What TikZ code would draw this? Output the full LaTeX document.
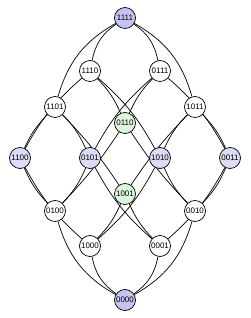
\documentclass[tikz,border=0pt]{standalone}
\usepackage{fontspec}
\setmainfont{Liberation Sans}
\usetikzlibrary{backgrounds}
\definecolor{topblue}{HTML}{C4C4F4}
\definecolor{midblue}{HTML}{DCDCF6}
\definecolor{midgreen}{HTML}{DDF5DD}
\tikzset{
  vtx/.style={circle,draw=black,line width=0.7pt,fill=white,minimum size=21pt,inner sep=0pt,font=\fontsize{8}{9}\selectfont},
  link/.style={line width=0.7pt,draw=black},
  BL/.style={link,bend left=22},
  BR/.style={link,bend right=22},
  ml/.style={link,bend left=10},
  mr/.style={link,bend right=10},
  sl/.style={link,bend left=5},
  sr/.style={link,bend right=5}
}
\begin{document}
\begin{tikzpicture}[x=1pt,y=1pt]
\useasboundingbox (0,0) rectangle (250,318);
\node[vtx,fill=topblue] (n1111) at (125,300) {1111};
\node[vtx] (n1110) at (90,247) {1110};
\node[vtx] (n0111) at (160,247) {0111};
\node[vtx] (n1101) at (55,211) {1101};
\node[vtx] (n1011) at (195,211) {1011};
\node[vtx,fill=midgreen] (n0110) at (125,195) {0110};
\node[vtx,fill=midblue] (n1100) at (20,160) {1100};
\node[vtx,fill=midblue] (n0101) at (90,160) {0101};
\node[vtx,fill=midblue] (n1010) at (160,160) {1010};
\node[vtx,fill=midblue] (n0011) at (230,160) {0011};
\node[vtx,fill=midgreen] (n1001) at (125,124) {1001};
\node[vtx] (n0100) at (55,107) {0100};
\node[vtx] (n0010) at (195,107) {0010};
\node[vtx] (n1000) at (90,72) {1000};
\node[vtx] (n0001) at (160,72) {0001};
\node[vtx,fill=topblue] (n0000) at (125,18) {0000};
\begin{scope}[on background layer]
\draw[BR] (n1111) to (n1110);
\draw[BL] (n1111) to (n0111);
\draw[BR] (n1111) to (n1101);
\draw[BL] (n1111) to (n1011);
\draw[mr] (n1110) to (n1100);
\draw[ml] (n1110) to (n1010);
\draw[ml] (n1110) to (n0110);
\draw[mr] (n0111) to (n0110);
\draw[mr] (n0111) to (n0101);
\draw[ml] (n0111) to (n0011);
\draw[mr] (n1101) to (n1100);
\draw[ml] (n1101) to (n0101);
\draw[sl] (n1101) to (n1001);
\draw[mr] (n1011) to (n1010);
\draw[ml] (n1011) to (n0011);
\draw[sr] (n1011) to (n1001);
\draw[sl] (n0110) to (n0100);
\draw[sr] (n0110) to (n0010);
\draw[mr] (n1100) to (n1000);
\draw[mr] (n1100) to (n0100);
\draw[ml] (n0101) to (n0100);
\draw[mr] (n0101) to (n0001);
\draw[ml] (n1010) to (n1000);
\draw[mr] (n1010) to (n0010);
\draw[ml] (n0011) to (n0010);
\draw[ml] (n0011) to (n0001);
\draw[ml] (n1001) to (n1000);
\draw[mr] (n1001) to (n0001);
\draw[BR] (n0100) to (n0000);
\draw[BR] (n1000) to (n0000);
\draw[BL] (n0010) to (n0000);
\draw[BL] (n0001) to (n0000);
\end{scope}
\end{tikzpicture}
\end{document}
